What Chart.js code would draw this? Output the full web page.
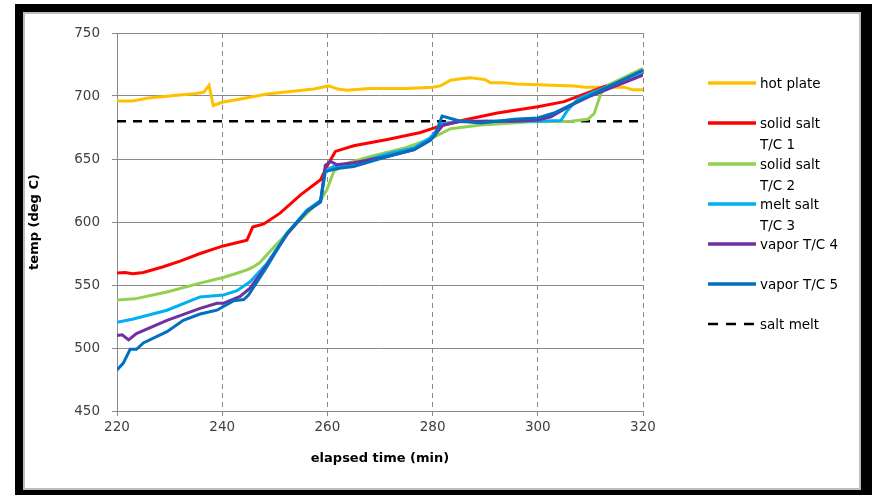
<!DOCTYPE html>
<html>
<head>
<meta charset="utf-8">
<script src="https://cdn.jsdelivr.net/npm/chart.js@4"></script>
<style>
  html, body { margin: 0; padding: 0; background: #fff; }
  #frame { position: absolute; left: 15px; top: 4px; width: 857px; height: 491px; background: #000; }
  #panel { position: absolute; left: 23px; top: 12px; width: 838px; height: 478px; background: #fff;
           border: 2px solid #bdbdbd; box-sizing: border-box; }
  #chart { position: absolute; left: 0; top: 0; }
</style>
</head>
<body>
<div id="frame"></div>
<div id="panel"></div>
<canvas id="chart" width="872" height="496"></canvas>
<script>
// Elapsed time (min) and temperature (deg C) for each thermocouple
const hotPlateTime = [220, 223, 226, 230, 235, 236.5, 237.5, 238.3, 240, 244, 248.5, 253, 257.4, 260.2, 262, 263.7, 268, 275, 280, 281.5, 283.4, 285, 287.2, 290, 291, 293.5, 296, 300, 306.9, 309, 316.4, 318, 320];
const hotPlateTemp = [696, 696, 698.5, 700, 702, 703, 708.5, 692.5, 695, 698, 701.5, 703.5, 705.5, 708, 705.5, 704.5, 706, 706, 707, 708, 712.5, 713.5, 714.5, 713, 710.5, 710.5, 709.5, 709, 708, 707, 707, 705, 705];

const solid1Time = [220, 221.5, 223, 225, 228.8, 232, 235.8, 240.2, 244.7, 245.8, 247.9, 251, 254.9, 258.7, 259.9, 261.5, 265, 271.4, 277.7, 280.9, 286, 292.3, 300, 305, 308.8, 312.6, 320];
const solid1Temp = [559.5, 560, 559, 560, 564.5, 569, 575, 581, 585.5, 596, 598.5, 607, 621.5, 633.5, 644, 656, 660.5, 665.5, 671, 675.5, 681, 686.5, 691.5, 695.5, 701.5, 707.5, 718];

const solid2Time = [220, 223.4, 229.5, 235.8, 240.2, 242.2, 244.7, 246, 247.2, 249.8, 254.2, 258.7, 259.9, 261.2, 263.7, 268.2, 274.5, 279.6, 283.4, 289.1, 298.7, 306.3, 309.5, 310.7, 312, 313.3, 320];
const solid2Temp = [538, 539, 544.5, 551.5, 556, 558.5, 562, 564.5, 568, 580, 599, 617.5, 625.5, 640, 646.5, 652, 658.5, 666, 674, 677, 679.5, 680, 681.5, 686, 702, 708.5, 722];

const melt3Time = [220, 223.1, 229.5, 235.8, 240.2, 242.8, 245.3, 248.5, 252.3, 256.1, 258.7, 259.6, 261.2, 265, 271.4, 276.5, 279.6, 281.8, 285.3, 290, 295, 300, 304.4, 305.7, 307.6, 310, 320];
const melt3Temp = [520.5, 523, 530, 540.5, 542, 545.5, 552.5, 567, 591, 609.5, 617, 641, 644, 646, 654, 659, 667, 678, 680, 680, 680, 680, 680.5, 689, 697.5, 702, 719];

const vapor4Time = [220, 221, 222.2, 223.7, 229.5, 235.8, 239, 240.2, 243.4, 245.3, 248.5, 252.3, 256.1, 258.7, 259.6, 260.6, 261.8, 265, 271.4, 276.5, 279.6, 282, 285, 290, 295, 300, 302.5, 306, 310, 320];
const vapor4Temp = [510, 510.5, 506.5, 511.5, 522, 531.5, 535.5, 535.5, 541, 547.5, 566, 590, 608.5, 616, 645, 648, 645.5, 647, 652, 657.5, 665, 677, 679.5, 680, 680, 681, 683.5, 692, 700, 716.5];

const vapor5Time = [220, 221.2, 222.5, 223.7, 225, 229.5, 232.6, 235.8, 239, 242.2, 244.1, 245, 248.5, 252.3, 256.1, 258.7, 259.6, 261.8, 265, 271.4, 276.5, 279.6, 280.5, 281.8, 285.3, 289.1, 292.3, 295.5, 300, 303.1, 308.2, 320];
const vapor5Temp = [482.5, 488, 499, 499, 504, 513, 522, 527, 530, 537.5, 538.5, 542, 564.5, 591, 608.5, 616, 640, 642.5, 644, 652, 657.5, 665, 669, 684, 680, 678.5, 680, 681.5, 682.5, 686.5, 697, 720.5];

const saltMeltTime = [220, 320];
const saltMeltTemp = [680, 680];

const xTicks = [220, 240, 260, 280, 300, 320];
const yTicks = [450, 500, 550, 600, 650, 700, 750];

const seriesNames = ['hot plate', 'solid salt T/C 1', 'solid salt T/C 2', 'melt salt T/C 3', 'vapor T/C 4', 'vapor T/C 5', 'salt melt'];
const seriesColors = ['#FFC000', '#FF0000', '#92D050', '#00B0F0', '#7030A0', '#0070C0', '#000000'];
// legend text, wrapped onto lines as laid out in the side key
const legendLines = [['hot plate'], ['solid salt', 'T/C 1'], ['solid salt', 'T/C 2'], ['melt salt', 'T/C 3'], ['vapor T/C 4'], ['vapor T/C 5'], ['salt melt']];

const pts = (ts, vs) => ts.map((t, i) => ({ x: t, y: vs[i] }));
const seriesData = [
  pts(hotPlateTime, hotPlateTemp),
  pts(solid1Time, solid1Temp),
  pts(solid2Time, solid2Temp),
  pts(melt3Time, melt3Temp),
  pts(vapor4Time, vapor4Temp),
  pts(vapor5Time, vapor5Temp),
  pts(saltMeltTime, saltMeltTemp)
];

const datasets = seriesData.map((d, i) => ({
  label: seriesNames[i],
  data: d,
  borderColor: seriesColors[i],
  backgroundColor: seriesColors[i],
  borderWidth: i === 6 ? 2.5 : 3,
  borderDash: i === 6 ? [9, 7] : [],
  pointRadius: 0,
  tension: 0,
  fill: false,
  order: i === 6 ? 10 : 6 - i
}));

// side key drawn to the right of the plot
const sideKey = {
  id: 'sideKey',
  afterDraw(chart) {
    const ctx = chart.ctx;
    const x0 = 708, x1 = 756, tx = 760;
    const rowY = [83, 123, 164, 204, 244, 284, 324];
    ctx.save();
    ctx.font = '13.5px "DejaVu Sans"';
    ctx.fillStyle = '#000';
    ctx.textBaseline = 'middle';
    ctx.textAlign = 'left';
    rowY.forEach((y, i) => {
      ctx.beginPath();
      ctx.strokeStyle = seriesColors[i];
      ctx.lineWidth = i === 6 ? 2.5 : 3.5;
      ctx.setLineDash(i === 6 ? [10, 8] : []);
      ctx.moveTo(x0, y);
      ctx.lineTo(x1, y);
      ctx.stroke();
      legendLines[i].forEach((s, k) => ctx.fillText(s, tx, y + 1 + k * 21));
    });
    ctx.restore();
  }
};

new Chart(document.getElementById('chart'), {
  type: 'line',
  data: { datasets },
  options: {
    responsive: false,
    animation: false,
    devicePixelRatio: 1,
    layout: { padding: { left: 0, right: 229, top: 33, bottom: 0 } },
    plugins: { legend: { display: false }, tooltip: { enabled: false } },
    scales: {
      x: {
        type: 'linear',
        min: 220, max: 320,
        afterFit(s) { s.height = 85; },
        afterBuildTicks(s) { s.ticks = xTicks.map(v => ({ value: v })); },
        ticks: { padding: 3, color: '#404040', font: { family: 'DejaVu Sans', size: 13.5 }, maxRotation: 0 },
        grid: { color: '#8a8a8a', lineWidth: 1, tickLength: 5, tickBorderDash: [], tickColor: '#8a8a8a' },
        border: { display: true, color: '#8a8a8a', width: 1, dash: [5, 4] },
        title: { display: true, text: 'elapsed time (min)', color: '#000',
                 font: { family: 'DejaVu Sans', size: 13, weight: 'bold' }, padding: { top: 0, bottom: 30 } }
      },
      y: {
        type: 'linear',
        min: 450, max: 750,
        afterFit(s) { s.width = 117; },
        afterBuildTicks(s) { s.ticks = yTicks.map(v => ({ value: v })); },
        ticks: { padding: 12, color: '#404040', font: { family: 'DejaVu Sans', size: 13.5 } },
        grid: { color: '#8a8a8a', lineWidth: 1, tickLength: 5, tickColor: '#8a8a8a' },
        border: { display: true, color: '#8a8a8a', width: 1 },
        title: { display: true, text: 'temp (deg C)', color: '#000',
                 font: { family: 'DejaVu Sans', size: 13, weight: 'bold' }, padding: { top: 27, bottom: 0 } }
      }
    }
  },
  plugins: [sideKey]
});
</script>
</body>
</html>
